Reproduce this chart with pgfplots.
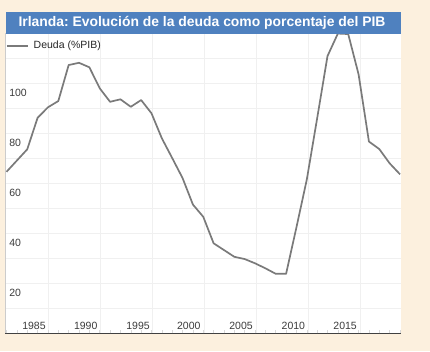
\documentclass[border=0pt]{standalone}
\usepackage{fontspec}
\setmainfont{Liberation Sans}
\usepackage{pgfplots}
\pgfplotsset{compat=1.18}
\definecolor{bgc}{RGB}{252,240,222}
\definecolor{barblue}{RGB}{79,129,191}
\definecolor{linegray}{RGB}{122,122,122}
\definecolor{gridc}{RGB}{240,240,240}
\definecolor{labc}{RGB}{60,60,60}
\frenchspacing
\begin{document}
\begin{tikzpicture}[x=1pt,y=1pt]
\fill[bgc] (0,0) rectangle (430,351);
\begin{axis}[
  at={(5.5pt,17.7pt)}, anchor=south west,
  scale only axis, width=395pt, height=300pt,
  xmin=1979.9, xmax=2018.05, ymin=0, ymax=120,
  axis background/.style={fill=white},
  axis lines*=left,
  x axis line style={draw=black!75, line width=0.9pt},
  y axis line style={draw=black!20, line width=0.6pt},
  /pgf/number format/assume math mode=true,
  tick align=inside,
  xtick={1982.65,1987.65,1992.7,1997.6,2002.65,2007.7,2012.7},
  xticklabels={1985,1990,1995,2000,2005,2010,2015},
  xticklabel style={anchor=base, inner sep=0pt, yshift=4.3pt, text=labc, font=\fontsize{10.5}{12}\selectfont},
  minor xtick={1984.05,1989.07,1994.09,1999.11,2004.13,2009.15,2014.17},
  ytick={20,40,60,80,100},
  minor ytick={10,30,50,70,90,110},
  yticklabel style={anchor=north west, inner sep=0pt, xshift=3.6pt, yshift=-5.6pt, text=labc, font=\fontsize{10.5}{12}\selectfont},
  major tick length=0pt, minor tick length=0pt,
  xmajorgrids=false, xminorgrids=true, ymajorgrids=true, yminorgrids=true,
  major grid style={draw=gridc, line width=0.6pt},
  minor grid style={draw=gridc, line width=0.6pt},
  extra x ticks={1980,1981,...,2018},
  extra x tick labels={},
  extra x tick style={grid=none, major tick length=3pt, tick style={draw=black!15, line width=0.5pt}},
  legend style={at={(0,1)}, anchor=north west, draw=none, fill=none, inner sep=0pt, outer sep=0pt,
    nodes={inner sep=0pt}, column sep=5pt, yshift=-8pt, xshift=0.5pt,
    font=\fontsize{10.5}{12}\selectfont, text=black!85},
  legend cell align=left,
  legend image code/.code={\draw[#1] (0pt,0pt) -- (21pt,0pt);},
]
\addplot[color=linegray, line width=1.7pt, line join=round] coordinates {
(1980,64.6) (1981,69.1) (1982,73.6) (1983,86.2) (1984,90.4) (1985,92.9)
(1986,107.3) (1987,108.2) (1988,106.4) (1989,98.0) (1990,92.6) (1991,93.6)
(1992,90.6) (1993,93.3) (1994,88.0) (1995,78.0) (1996,70.1) (1997,62.1)
(1998,51.5) (1999,46.6) (2000,36.0) (2001,33.3) (2002,30.6) (2003,29.7)
(2004,28.0) (2005,26.0) (2006,23.8) (2007,23.8) (2008,42.4) (2009,61.5)
(2010,86.0) (2011,110.9) (2012,119.9) (2013,119.7) (2014,103.6) (2015,76.7)
(2016,73.7) (2017,68.0) (2018,63.6)
};
\addlegendentry{Deuda (\%PIB)}
\end{axis}
\fill[barblue] (5.5,317) rectangle (400.5,339);
\node[text=white, font=\bfseries\fontsize{13.9}{16}\selectfont] at (202,328.3) {Irlanda: Evolución de la deuda como porcentaje del PIB};
\end{tikzpicture}
\end{document}
